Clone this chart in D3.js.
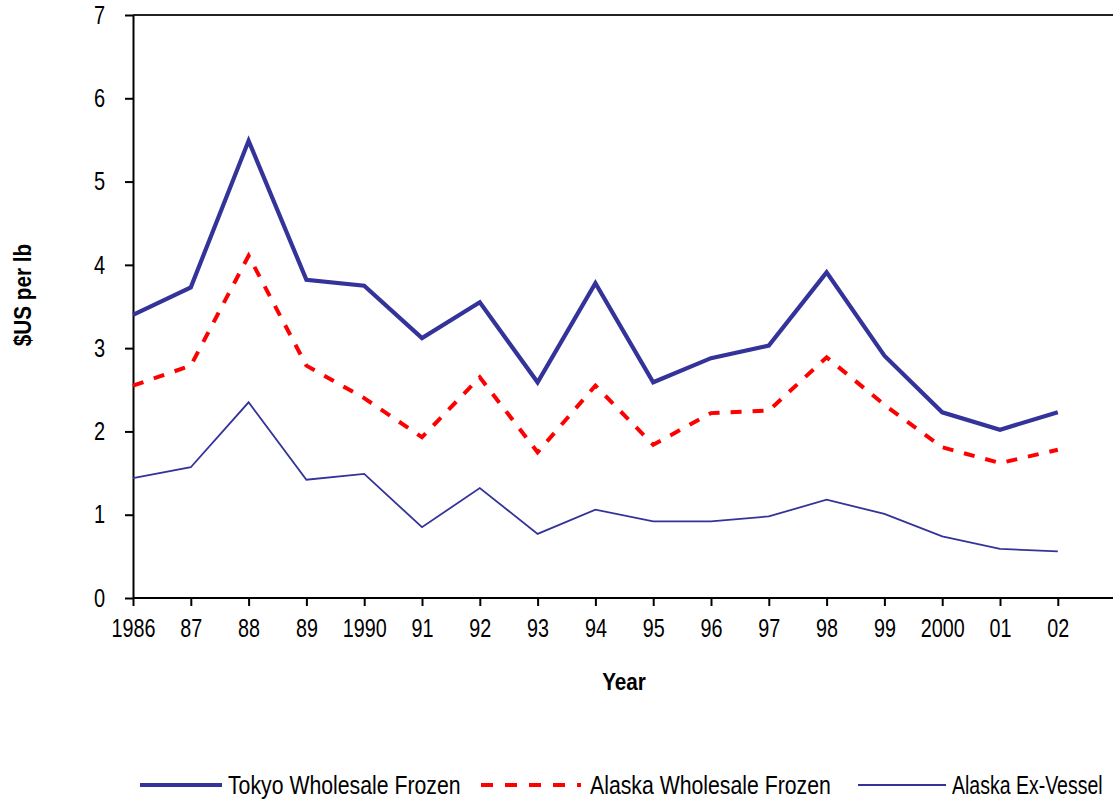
<!DOCTYPE html>
<html>
<head>
<meta charset="utf-8">
<script src="https://cdn.jsdelivr.net/npm/d3@7"></script>
<style>
  html, body { margin: 0; padding: 0; background: #fff; }
  svg { display: block; }
  text { font-family: "Liberation Sans", Arial, sans-serif; fill: #000; }
</style>
</head>
<body>
<svg id="chart" width="1113" height="801"></svg>
<script>
// ---- data ----
const years = ["1986","87","88","89","1990","91","92","93","94","95","96","97","98","99","2000","01","02"];
const tokyoWholesaleFrozen = [3.40,3.73,5.49,3.82,3.75,3.12,3.55,2.59,3.78,2.59,2.88,3.03,3.91,2.91,2.23,2.02,2.23];
const alaskaWholesaleFrozen = [2.55,2.79,4.11,2.79,2.40,1.93,2.65,1.75,2.55,1.84,2.22,2.25,2.89,2.32,1.81,1.62,1.78];
const alaskaExVessel = [1.44,1.57,2.35,1.42,1.49,0.85,1.32,0.77,1.06,0.92,0.92,0.98,1.18,1.01,0.74,0.59,0.56];
const yTicks = [0,1,2,3,4,5,6,7];
const seriesNames = ["Tokyo Wholesale Frozen","Alaska Wholesale Frozen","Alaska Ex-Vessel"];

(function() {
const svg = d3.select("#chart");
const mLeft = 133, mTop = 15, mBottom = 598, step = 57.8, rightEdge = 1113;

const x = d3.scalePoint().domain(years).range([mLeft, mLeft + step * (years.length - 1)]);
const y = d3.scaleLinear().domain([0, 7]).range([mBottom, mTop]);

function condense(sel, f) {
  sel.each(function() {
    const len = this.getComputedTextLength() * f;
    d3.select(this).attr("textLength", len).attr("lengthAdjust", "spacingAndGlyphs");
  });
}

// top border
svg.append("line").attr("x1", mLeft).attr("x2", rightEdge).attr("y1", mTop).attr("y2", mTop)
  .attr("stroke", "#222").attr("stroke-width", 2);

// y axis
const yAxis = svg.append("g").attr("transform", `translate(${mLeft},0)`)
  .call(d3.axisLeft(y).tickValues(yTicks).tickFormat(d3.format("d")).tickSize(8).tickSizeOuter(0).tickPadding(20));
yAxis.select(".domain").attr("stroke", "#000").attr("stroke-width", 2);
yAxis.selectAll(".tick line").attr("stroke", "#000").attr("stroke-width", 2);
yAxis.selectAll(".tick text").attr("font-size", 25).attr("font-family", "Liberation Sans, Arial, sans-serif").attr("dy", "0.33em");
condense(yAxis.selectAll(".tick text"), 0.8);

// x axis
const xAxis = svg.append("g").attr("transform", `translate(0,${mBottom})`)
  .call(d3.axisBottom(x).tickSize(8).tickSizeOuter(0).tickPadding(13));
xAxis.select(".domain").remove();
xAxis.append("line").attr("x1", mLeft).attr("x2", rightEdge).attr("y1", 0).attr("y2", 0)
  .attr("stroke", "#000").attr("stroke-width", 2);
xAxis.selectAll(".tick line").attr("stroke", "#000").attr("stroke-width", 2);
xAxis.selectAll(".tick text").attr("font-size", 25).attr("font-family", "Liberation Sans, Arial, sans-serif").attr("dy", "0.71em");
condense(xAxis.selectAll(".tick text"), 0.79);

// axis titles
const yt = svg.append("text").attr("transform", "translate(31,295) rotate(-90)")
  .attr("text-anchor", "middle").attr("font-size", 23).attr("font-weight", "bold").text("$US per lb");
condense(yt, 0.9);
const xt = svg.append("text").attr("x", 624).attr("y", 690)
  .attr("text-anchor", "middle").attr("font-size", 23).attr("font-weight", "bold").text("Year");
condense(xt, 0.9);

// lines
const line = d3.line().x((d, i) => x(years[i])).y(d => y(d));
svg.append("path").datum(alaskaExVessel).attr("d", line)
  .attr("fill", "none").attr("stroke", "#333399").attr("stroke-width", 1.8).attr("stroke-linejoin", "miter");
svg.append("path").datum(alaskaWholesaleFrozen).attr("d", line)
  .attr("fill", "none").attr("stroke", "#FF0000").attr("stroke-width", 4).attr("stroke-dasharray", "11,11");
svg.append("path").datum(tokyoWholesaleFrozen).attr("d", line)
  .attr("fill", "none").attr("stroke", "#333399").attr("stroke-width", 4.2).attr("stroke-linejoin", "miter");

// legend (text horizontally condensed with a scale transform)
const legY = 785;
const legend = [
  {name: seriesNames[0], x1: 140, x2: 222, tx: 228, color: "#333399", w: 4.2, dash: null, sx: 0.85},
  {name: seriesNames[1], x1: 481, x2: 581, tx: 590, color: "#FF0000", w: 4, dash: "12,12", sx: 0.85},
  {name: seriesNames[2], x1: 858, x2: 946, tx: 952, color: "#333399", w: 1.8, dash: null, sx: 0.78}
];
const lg = svg.append("g");
legend.forEach(l => {
  const ln = lg.append("line").attr("x1", l.x1).attr("x2", l.x2).attr("y1", legY).attr("y2", legY)
    .attr("stroke", l.color).attr("stroke-width", l.w);
  if (l.dash) ln.attr("stroke-dasharray", l.dash);
  lg.append("text").attr("transform", `translate(${l.tx},${legY + 9}) scale(${l.sx},1)`)
    .attr("font-size", 25).text(l.name);
});
})();
</script>
</body>
</html>
